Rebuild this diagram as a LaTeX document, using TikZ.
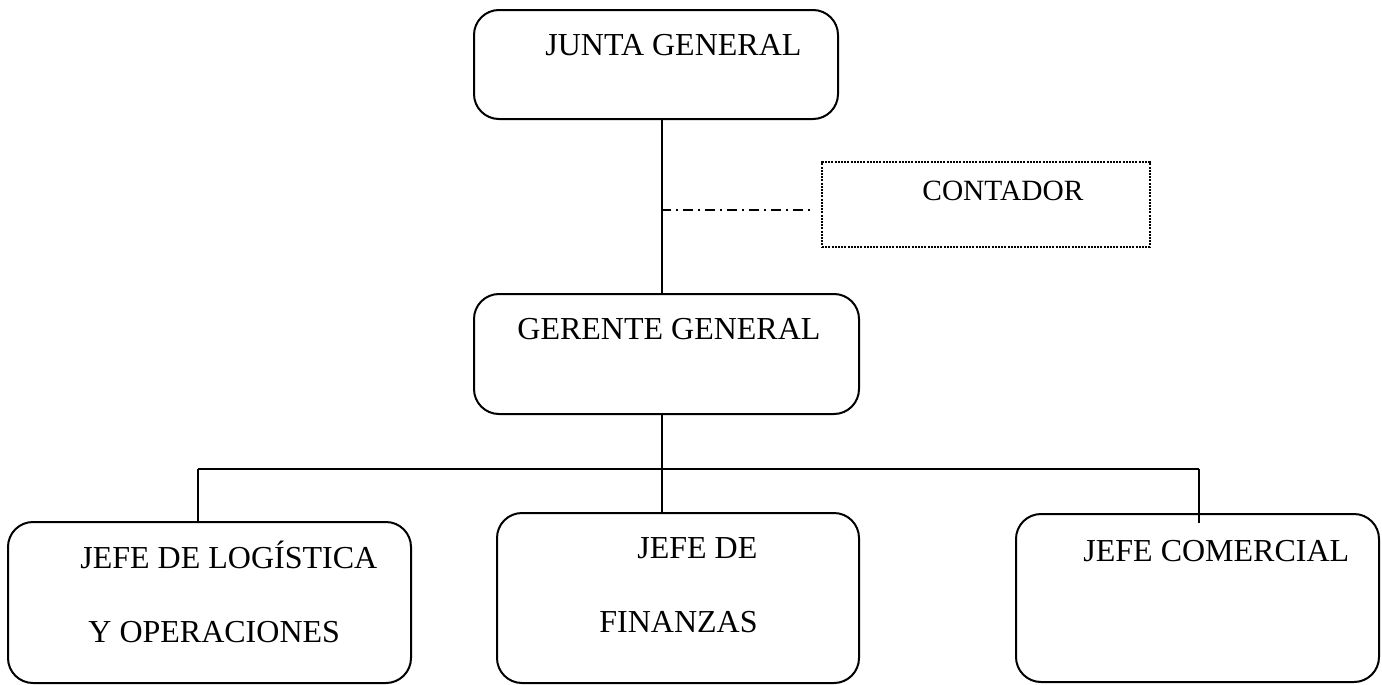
\documentclass[tikz,border=0pt]{standalone}
\usepackage{fontspec}
\setmainfont{Liberation Serif}
\begin{document}
\begin{tikzpicture}[x=0.5pt,y=-0.5pt,
  box/.style={draw=black,line width=1pt,rounded corners=12.5pt,inner sep=0pt},
  dotbox/.style={draw=black,line width=0.8pt,dash pattern=on 1pt off 0.6pt,inner sep=0pt},
  lbl/.style={anchor=base west,inner sep=0pt,font=\fontsize{16}{19}\selectfont},
  conn/.style={draw=black,line width=1pt},
  dashdotline/.style={draw=black,line width=0.8pt,dash pattern=on 5pt off 2.5pt on 1pt off 2.5pt}]
\useasboundingbox[fill=white] (0,0) rectangle (1382,685);
% boxes
\node[box,minimum width=182pt,minimum height=54.5pt] (junta) at (656,64.5) {};
\node[dotbox,minimum width=164pt,minimum height=42.5pt] (contador) at (986,204.5) {};
\node[box,minimum width=192.5pt,minimum height=60pt] (gerente) at (666.5,354) {};
\node[box,minimum width=201.5pt,minimum height=80.5pt] (log) at (209.5,602.5) {};
\node[box,minimum width=181pt,minimum height=85pt] (fin) at (678,598) {};
\node[box,minimum width=181.5pt,minimum height=84pt] (com) at (1197.5,598) {};
% texts
\node[lbl] (tjunta) at (545,55) {JUNTA GENERAL};
\node[lbl,font=\fontsize{14.7}{17}\selectfont] (tcont) at (922,200) {CONTADOR};
\node[lbl] (tger) at (517,339) {GERENTE GENERAL};
\node[lbl] (tlog1) at (80,568) {JEFE DE LOGÍSTICA};
\node[lbl] (tlog2) at (88,642) {Y OPERACIONES};
\node[lbl] (tfin1) at (637,558) {JEFE DE};
\node[lbl] (tfin2) at (599,632) {FINANZAS};
\node[lbl] (tcom) at (1083,561) {JEFE COMERCIAL};
% coordinates
\coordinate (spine) at (662,0);
\coordinate (dd0) at (661,210);
\coordinate (dd1) at (813,210);
\coordinate (hl) at (198,469);
\coordinate (hr) at (1199,469);
\coordinate (comin) at (1199,523);
% connectors
\draw[conn] (junta.south -| spine) -- (gerente.north -| spine);
\draw[dashdotline] (dd0) -- (dd1);
\draw[conn] (gerente.south -| spine) -- (fin.north -| spine);
\draw[conn] (hl) -- (hr);
\draw[conn] (hl) -- (log.north -| hl);
\draw[conn] (hr) -- (comin);
\end{tikzpicture}
\end{document}
